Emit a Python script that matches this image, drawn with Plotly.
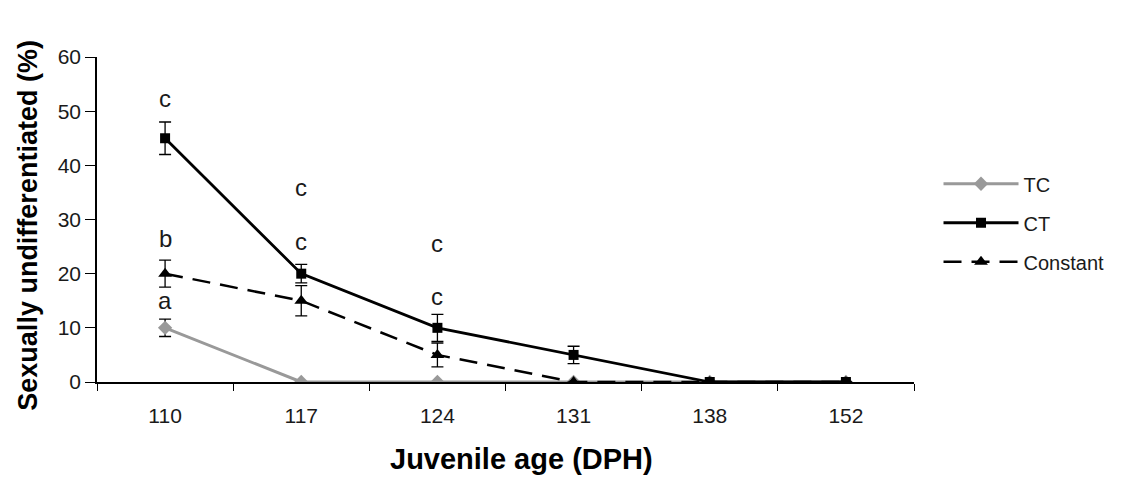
import plotly.graph_objects as go

ages = ["110", "117", "124", "131", "138", "152"]
tc = [10, 0, 0, 0, 0, 0]
tc_err = [1.6, 0, 0, 0, 0, 0]
ct = [45, 20, 10, 5, 0, 0]
ct_err = [3, 1.7, 2.5, 1.6, 0, 0]
constant = [20, 15, 5, 0, 0, 0]
constant_err = [2.5, 2.8, 2.2, 0, 0, 0]

letters = ["c", "c", "c", "b", "a", "c", "c"]
letter_age = ["110", "117", "117", "110", "110", "124", "124"]
letter_y = [52.3, 36, 26, 26.5, 15, 25.6, 15.8]

FONT = "Liberation Sans, Arial, sans-serif"

fig = go.Figure()
err_style = dict(type="data", color="black", thickness=1.3, width=6)

fig.add_trace(go.Scatter(
    x=ages, y=tc, name="TC", mode="lines+markers", legendrank=1, legendgroup="g1",
    line=dict(color="#999999", width=3),
    marker=dict(symbol="diamond", size=11, color="#999999"),
    error_y=dict(array=tc_err, **err_style),
))
fig.add_trace(go.Scatter(
    x=ages, y=constant, name="Constant", mode="lines+markers", legendrank=3, legendgroup="g3",
    line=dict(color="black", width=2.5, dash="18px,10px"),
    marker=dict(symbol="triangle-up", size=12, color="black"),
    error_y=dict(array=constant_err, **err_style),
))
fig.add_trace(go.Scatter(
    x=ages, y=ct, name="CT", mode="lines+markers", legendrank=2, legendgroup="g2",
    line=dict(color="black", width=2.8),
    marker=dict(symbol="square", size=10, color="black"),
    error_y=dict(array=ct_err, **err_style),
))

for t, a, yv in zip(letters, letter_age, letter_y):
    fig.add_annotation(x=ages.index(a), y=yv, text=t, showarrow=False,
                       font=dict(family=FONT, size=24, color="#1a1a1a"),
                       yanchor="middle")

# axis titles (positioned as in the original)
fig.add_annotation(xref="paper", yref="paper", x=0, y=0.481, xshift=-69,
                   text="<b>Sexually undifferentiated (%)</b>", textangle=-90,
                   showarrow=False, xanchor="center", yanchor="middle",
                   font=dict(family=FONT, size=27, color="black"))
fig.add_annotation(xref="paper", yref="paper", x=0.52, y=-0.238,
                   text="<b>Juvenile age (DPH)</b>",
                   showarrow=False, xanchor="center", yanchor="middle",
                   font=dict(family=FONT, size=29, color="black"))

fig.update_layout(
    width=1129, height=475,
    margin=dict(l=89, r=223, t=49, b=101),
    paper_bgcolor="white", plot_bgcolor="white",
    font=dict(family=FONT, color="#1a1a1a"),
    showlegend=True,
    legend=dict(x=1.03, y=0.67, xanchor="left", yanchor="top",
                font=dict(family=FONT, size=20, color="#1a1a1a"),
                itemwidth=75, bgcolor="rgba(0,0,0,0)", tracegroupgap=10,
                traceorder="grouped"),
)
fig.update_xaxes(
    type="category", range=[-0.5, 5.5], tickson="boundaries",
    showline=True, linecolor="black", linewidth=1.5,
    ticks="outside", ticklen=7, tickcolor="black", tickwidth=1.3,
    showgrid=False, zeroline=False,
    tickfont=dict(family=FONT, size=21, color="#1a1a1a"),
    ticklabelstandoff=14,
)
fig.update_yaxes(
    range=[0, 60], dtick=10,
    showline=True, linecolor="black", linewidth=1.5,
    ticks="outside", ticklen=10, tickcolor="black", tickwidth=1.3,
    showgrid=False, zeroline=False,
    tickfont=dict(family=FONT, size=21, color="#1a1a1a"),
    ticklabelstandoff=0,
)

fig.write_html("out.html")
